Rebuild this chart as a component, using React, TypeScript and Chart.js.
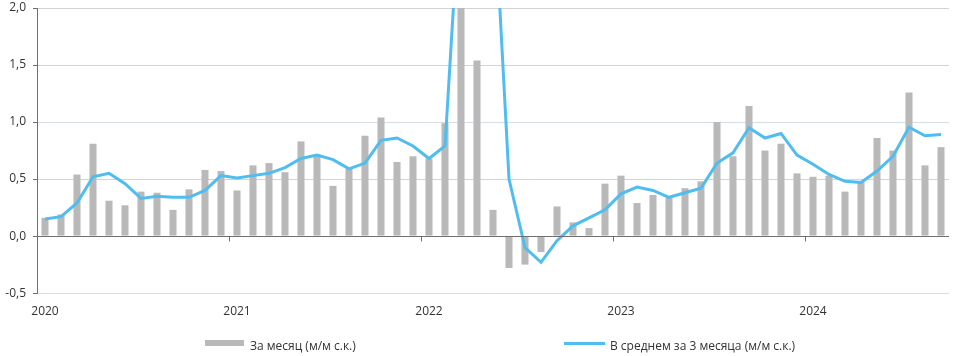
import React, { useEffect, useRef } from "react";
import { Chart, registerables } from "chart.js";

Chart.register(...registerables);

const months: string[] = [];
for (let y = 2020; y <= 2024; y++) {
  for (let m = 1; m <= 12; m++) {
    if (y === 2024 && m > 9) break;
    months.push(`${y}-${String(m).padStart(2, "0")}`);
  }
}

const monthlyValues = [
  0.16, 0.19, 0.54, 0.81, 0.31, 0.27, 0.39, 0.38, 0.23, 0.41, 0.58, 0.57,
  0.40, 0.62, 0.64, 0.56, 0.83, 0.71, 0.44, 0.59, 0.88, 1.04, 0.65, 0.70,
  0.68, 0.99, 7.60, 1.54, 0.23, -0.28, -0.25, -0.14, 0.26, 0.12, 0.07, 0.46,
  0.53, 0.29, 0.36, 0.34, 0.42, 0.48, 1.00, 0.70, 1.14, 0.75, 0.81, 0.55,
  0.52, 0.53, 0.39, 0.48, 0.86, 0.75, 1.26, 0.62, 0.78,
];

const avg3Values = [
  0.15, 0.17, 0.29, 0.52, 0.55, 0.46, 0.33, 0.35, 0.34, 0.34, 0.40, 0.53,
  0.51, 0.53, 0.55, 0.60, 0.68, 0.71, 0.67, 0.59, 0.64, 0.84, 0.86, 0.79,
  0.68, 0.79, 3.10, 3.38, 3.12, 0.50, -0.10, -0.23, -0.04, 0.09, 0.16, 0.23,
  0.37, 0.43, 0.40, 0.34, 0.38, 0.42, 0.64, 0.73, 0.95, 0.86, 0.90, 0.71,
  0.63, 0.54, 0.48, 0.47, 0.57, 0.70, 0.955, 0.88, 0.89,
];

const yTicks = [-0.5, 0, 0.5, 1.0, 1.5, 2.0];

const seriesNames = ["За месяц (м/м с.к.)", "В среднем за 3 месяца (м/м с.к.)"];

const BAR_COLOR = "#b9b9b9";
const LINE_COLOR = "#4fbdef";
const FONT = "'Open Sans', 'DejaVu Sans', sans-serif";

const yearTicksPlugin = {
  id: "yearTicks",
  afterDatasetsDraw(chart: any) {
    const x = chart.scales.x;
    const y = chart.scales.y;
    const ctx = chart.ctx;
    const zero = Math.round(y.getPixelForValue(0)) + 0.5;
    const half = (x.getPixelForValue(1) - x.getPixelForValue(0)) / 2;
    ctx.save();
    ctx.strokeStyle = "#6f6f6f";
    ctx.lineWidth = 1;
    ctx.beginPath();
    ctx.moveTo(chart.chartArea.left, zero);
    ctx.lineTo(chart.chartArea.right, zero);
    ctx.stroke();
    months.forEach((m, i) => {
      if (m.endsWith("-01") && i > 0) {
        const px = Math.round(x.getPixelForValue(i) - half) + 0.5;
        ctx.beginPath();
        ctx.moveTo(px, zero);
        ctx.lineTo(px, zero + 5);
        ctx.stroke();
      }
    });
    ctx.restore();
  },
};

export default function App() {
  const ref = useRef<HTMLCanvasElement | null>(null);

  useEffect(() => {
    if (!ref.current) return;
    const chart = new Chart(ref.current, {
      type: "bar",
      data: {
        labels: months,
        datasets: [
          {
            type: "line",
            label: seriesNames[1],
            data: avg3Values,
            borderColor: LINE_COLOR,
            backgroundColor: LINE_COLOR,
            borderWidth: 3,
            pointRadius: 0,
            tension: 0,
            order: 0,
          } as any,
          {
            type: "bar",
            label: seriesNames[0],
            data: monthlyValues,
            backgroundColor: BAR_COLOR,
            borderWidth: 0,
            categoryPercentage: 1,
            barPercentage: 0.44,
            order: 1,
          },
        ],
      },
      options: {
        responsive: false,
        animation: false,
        layout: { padding: { left: 0, right: 4, top: 8, bottom: 34.5 } },
        plugins: {
          legend: { display: false },
          tooltip: { enabled: false },
        },
        scales: {
          x: {
            type: "category",
            offset: true,
            grid: { display: false },
            border: { display: false },
            ticks: {
              autoSkip: false,
              maxRotation: 0,
              minRotation: 0,
              padding: 3,
              color: "#333",
              font: { family: FONT, size: 12 },
              callback: (_v: any, i: number) =>
                months[i].endsWith("-01") ? months[i].slice(0, 4) : "",
            },
          },
          y: {
            min: -0.5,
            max: 2.0,
            afterBuildTicks: (s: any) => {
              s.ticks = yTicks.map((v) => ({ value: v }));
            },
            afterFit: (s: any) => {
              s.width = 37;
              s.paddingTop = 0;
              s.paddingBottom = 0;
            },
            border: { display: true, color: "#6f6f6f", width: 1 },
            grid: {
              color: (c: any) =>
                c.tick && c.tick.value === 0
                  ? "rgba(0,0,0,0)"
                  : c.tick && (c.tick.value === 1 || c.tick.value === -0.5)
                  ? "#d5dde6"
                  : "#d3d3d3",
              tickColor: "#6f6f6f",
              tickLength: 4,
              lineWidth: 1,
            },
            ticks: {
              padding: 7,
              color: "#333",
              font: { family: FONT, size: 12 },
              callback: (v: any) => Number(v).toFixed(1).replace(".", ","),
            },
          },
        },
      },
      plugins: [yearTicksPlugin],
    });
    return () => chart.destroy();
  }, []);

  const legendText: React.CSSProperties = {
    position: "absolute",
    top: 338,
    fontFamily: FONT,
    fontSize: 12,
    color: "#333",
    lineHeight: "16px",
    whiteSpace: "nowrap",
  };

  return (
    <div style={{ position: "fixed", left: 0, top: 0, width: 953, height: 356, background: "#fff" }}>
      <canvas ref={ref} width={953} height={356} style={{ display: "block" }} />
      <div style={{ position: "absolute", left: 205, top: 340, width: 39, height: 6, background: BAR_COLOR }} />
      <div style={{ ...legendText, left: 250 }}>{seriesNames[0]}</div>
      <div style={{ position: "absolute", left: 564, top: 342, width: 41, height: 3, background: LINE_COLOR }} />
      <div style={{ ...legendText, left: 610 }}>{seriesNames[1]}</div>
    </div>
  );
}
